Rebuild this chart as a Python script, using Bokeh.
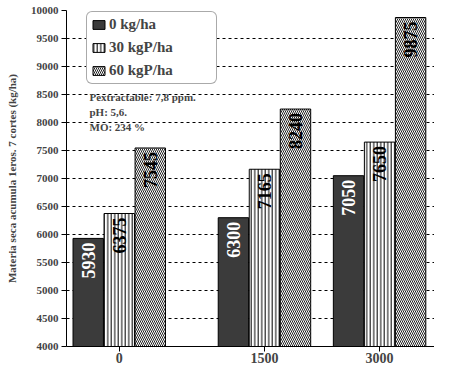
import numpy as np
from bokeh.plotting import figure
from bokeh.models import Range1d, FixedTicker, ColumnDataSource, Label, Legend, LegendItem
from bokeh.core.properties import value
from bokeh.embed import file_html
from bokeh.resources import INLINE

doses = ["0", "1500", "3000"]
series = ["0 kg/ha", "30 kgP/ha", "60 kgP/ha"]
v0 = [5930, 6300, 7050]
v30 = [6375, 7165, 7650]
v60 = [7545, 8240, 9875]
y_ticks = list(range(4000, 10001, 500))

# layout (positions of group centres along x, in bar-width units)
group_x = [1.70, 6.38, 10.09]
X_MAX = 11.86

FONT = "Liberation Serif"
FH = 336

p = figure(width=434, height=367, output_backend="svg", toolbar_location=None,
           x_range=Range1d(0, X_MAX), y_range=Range1d(4000, 10000),
           min_border_left=66, min_border_right=0, min_border_top=10, min_border_bottom=21)
p.frame_width = 368
p.frame_height = FH
p.outline_line_color = None
p.background_fill_color = "white"

p.xgrid.grid_line_color = None
p.ygrid.grid_line_color = "black"
p.ygrid.grid_line_dash = "3 3"
p.ygrid.grid_line_width = 1
p.ygrid.ticker = FixedTicker(ticks=y_ticks)

p.yaxis.ticker = FixedTicker(ticks=y_ticks)
p.yaxis.major_tick_in = 0
p.yaxis.major_tick_out = 5
p.yaxis.minor_tick_line_color = None
p.yaxis.major_label_text_font = FONT
p.yaxis.major_label_text_font_style = "bold"
p.yaxis.major_label_text_font_size = "11px"
p.yaxis.major_label_standoff = 3
p.yaxis.axis_label = "Materia seca acumula 1eros. 7 cortes (kg/ha)"
p.yaxis.axis_label_text_font = FONT
p.yaxis.axis_label_text_font_style = "bold"
p.yaxis.axis_label_text_font_size = "11px"
p.yaxis.axis_label_standoff = 10
p.yaxis.axis_line_color = "black"

p.xaxis.ticker = FixedTicker(ticks=group_x)
p.xaxis.major_label_overrides = {gx: d for gx, d in zip(group_x, doses)}
p.xaxis.major_tick_in = 0
p.xaxis.major_tick_out = 5
p.xaxis.minor_tick_line_color = None
p.xaxis.major_label_text_font = FONT
p.xaxis.major_label_text_font_style = "bold"
p.xaxis.major_label_text_font_size = "14px"
p.xaxis.major_label_standoff = 1

gx = np.array(group_x)
src = ColumnDataSource(dict(
    x0=gx - 1, x1=gx, x2=gx + 1,
    v0=v0, v30=v30, v60=v60,
    t0=[str(v) for v in v0], t30=[str(v) for v in v30], t60=[str(v) for v in v60],
))

bw = 0.98
r0 = p.vbar(x="x0", top="v0", bottom=4000, width=bw, source=src,
            fill_color="#3b3b3b", line_color="black", line_width=1)
r1 = p.vbar(x="x1", top="v30", bottom=4000, width=bw, source=src,
            fill_color="white", line_color="black", line_width=1,
            hatch_pattern="vertical_line", hatch_color="black", hatch_scale=3.5, hatch_weight=1)
r2 = p.vbar(x="x2", top="v60", bottom=4000, width=bw, source=src,
            fill_color="white", line_color="black", line_width=1,
            hatch_pattern="left_diagonal_line", hatch_color="#222222", hatch_scale=4, hatch_weight=1)

for xc, tc, vc, col in [("x0", "t0", "v0", "white"), ("x1", "t30", "v30", "black"), ("x2", "t60", "v60", "black")]:
    p.text(x=xc, y=vc, text=tc, source=src, angle=np.pi / 2, text_align="right",
           text_baseline="middle", y_offset=4, text_color=col,
           text_font=value(FONT), text_font_style="bold", text_font_size="18px")

legend = Legend(items=[LegendItem(label=series[0], renderers=[r0]),
                       LegendItem(label=series[1], renderers=[r1]),
                       LegendItem(label=series[2], renderers=[r2])],
                location=(20, FH - 3 - 71))
legend.label_text_font = FONT
legend.label_text_font_style = "bold"
legend.label_text_font_size = "15px"
legend.glyph_width = 15
legend.glyph_height = 11
legend.label_height = 17
legend.label_width = 103
legend.spacing = 6
legend.padding = 4
legend.margin = 0
legend.label_standoff = 3
legend.border_line_color = "#555555"
legend.border_line_width = 1
legend.background_fill_color = "white"
legend.background_fill_alpha = 1
if "border_radius" in legend.properties():
    legend.border_radius = 6
p.add_layout(legend, "center")

notes = ["Pextractable: 7,8 ppm.", "pH: 5,6.", "MO: 234 %"]
for i, t in enumerate(notes):
    p.add_layout(Label(x=23, y=FH - 86 - i * 15, x_units="screen", y_units="screen", text=t,
                       text_font=FONT, text_font_style="bold", text_font_size="11px",
                       text_baseline="middle", background_fill_color=None))

open("out.html", "w").write(file_html(p, INLINE))
